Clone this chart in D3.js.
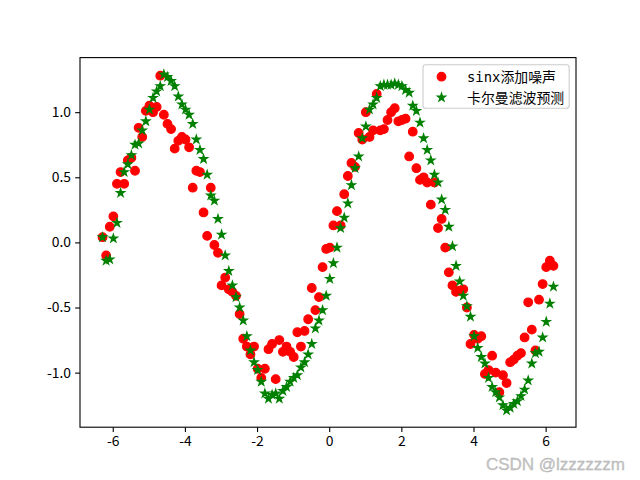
<!DOCTYPE html>
<html>
<head>
<meta charset="utf-8">
<script src="https://cdn.jsdelivr.net/npm/d3@7"></script>
<style>
  html, body { margin: 0; padding: 0; background: #fff; }
  svg { display: block; }
</style>
</head>
<body>
<svg id="chart" width="640" height="480"></svg>
<script>
// ---- data ----
const xStart = -2 * Math.PI;   // sampling grid start
const xStep = 0.1;             // sampling grid step

const noisySin = [
  0.04, -0.10, 0.12, 0.20, 0.45, 0.54, 0.45, 0.63, 0.65, 0.55,
  0.88, 0.81, 1.01, 1.05, 1.00, 1.04, 1.28, 0.98, 0.91, 0.87,
  0.72, 0.78, 0.81, 0.79, 0.73, 0.42, 0.55, 0.54, 0.23, 0.05,
  0.42, -0.02, -0.08, -0.33, -0.27, -0.36, -0.38, -0.41, -0.55, -0.74,
  -0.80, -0.86, -0.80, -0.97, -1.04, -0.97, -0.82, -0.78, -1.05, -0.75,
  -0.84, -0.80, -0.84, -0.88, -0.69, -0.80, -0.68, -0.59, -0.35, -0.52,
  -0.42, -0.19, -0.05, -0.04, 0.13, 0.24, 0.13, 0.37, 0.51, 0.61,
  0.58, 0.84, 0.79, 1.00, 0.81, 0.86, 1.14, 0.86, 0.87, 0.94,
  1.00, 1.03, 0.93, 0.94, 0.95, 0.66, 0.85, 0.57, 0.48, 0.50,
  0.46, 0.29, 0.46, 0.11, 0.18, -0.04, -0.23, -0.33, -0.38, -0.37,
  -0.36, -0.50, -0.78, -0.71, -0.74, -0.72, -1.01, -0.98, -0.87, -1.00,
  -1.15, -1.02, -1.08, -0.92, -0.90, -0.87, -0.85, -0.73, -0.46, -0.67,
  -0.83, -0.44, -0.32, -0.19, -0.14, -0.18
];

const kalmanPred = [
  0.04, -0.14, -0.13, 0.03, 0.15, 0.38, 0.54, 0.60, 0.67, 0.75,
  0.76, 0.86, 0.93, 1.02, 1.11, 1.16, 1.20, 1.29, 1.27, 1.24,
  1.20, 1.12, 1.06, 1.02, 0.98, 0.91, 0.79, 0.71, 0.64, 0.52,
  0.36, 0.32, 0.18, 0.06, -0.10, -0.22, -0.33, -0.42, -0.50, -0.60,
  -0.72, -0.83, -0.92, -0.98, -1.07, -1.16, -1.20, -1.17, -1.16, -1.20,
  -1.14, -1.11, -1.07, -1.04, -1.02, -0.96, -0.92, -0.86, -0.78, -0.66,
  -0.60, -0.52, -0.41, -0.28, -0.16, -0.04, 0.11, 0.19, 0.30, 0.44,
  0.57, 0.66, 0.80, 0.89, 1.02, 1.06, 1.11, 1.20, 1.21, 1.21,
  1.21, 1.22, 1.21, 1.20, 1.17, 1.15, 1.05, 1.01, 0.92, 0.80,
  0.71, 0.63, 0.52, 0.46, 0.33, 0.25, 0.12, -0.03, -0.18, -0.30,
  -0.41, -0.49, -0.57, -0.72, -0.81, -0.88, -0.93, -1.04, -1.11, -1.15,
  -1.19, -1.25, -1.29, -1.27, -1.24, -1.22, -1.18, -1.13, -1.06, -0.93,
  -0.85, -0.84, -0.73, -0.61, -0.47, -0.34
];

const xTicks = [-6, -4, -2, 0, 2, 4, 6];
const yTicks = [-1.0, -0.5, 0.0, 0.5, 1.0];
const legendLabels = ["sinx添加噪声", "卡尔曼滤波预测"];
const watermark = "CSDN @lzzzzzzm";

(function () {
  // ---- layout ----
  const W = 640, H = 480;
  const axL = 80, axR = 576, axT = 57.6, axB = 427.2;
  const RED = "#ff0000", GREEN = "#008000";
  const FS = 13.89;
  const FONT = "'Noto Sans CJK SC', 'DejaVu Sans', sans-serif";
  const LFONT = "'DejaVu Sans Mono', 'Noto Sans CJK SC', sans-serif";

  const xs = noisySin.map((_, i) => xStart + xStep * i);
  const pts1 = xs.map((xv, i) => ({ x: xv, y: noisySin[i] }));
  const pts2 = xs.map((xv, i) => ({ x: xv, y: kalmanPred[i] }));

  function padded(ext) {
    const r = ext[1] - ext[0];
    return [ext[0] - 0.05 * r, ext[1] + 0.05 * r];
  }
  const xExt = d3.extent(xs);
  const yExt = d3.extent(noisySin.concat(kalmanPred));

  const x = d3.scaleLinear().domain(padded(xExt)).range([axL, axR]);
  const y = d3.scaleLinear().domain(padded(yExt)).range([axB, axT]);

  const svg = d3.select("#chart");
  svg.append("rect").attr("width", W).attr("height", H).attr("fill", "#fff");

  const fmtY = d => (d < 0 ? "-" : "") + Math.abs(d).toFixed(1);
  const fmtX = d => (d < 0 ? "-" : "") + Math.abs(d);

  const starR = 4.3;
  const starPath = d3.symbol().type(d3.symbolStar).size(starR * starR / 0.8908130915292852)();

  // points
  const plot = svg.append("g");
  plot.append("g").selectAll("circle").data(pts1).join("circle")
    .attr("cx", d => x(d.x)).attr("cy", d => y(d.y))
    .attr("r", 4.3)
    .attr("fill", RED).attr("stroke", RED).attr("stroke-width", 1.2);

  plot.append("g").selectAll("path").data(pts2).join("path")
    .attr("d", starPath)
    .attr("transform", d => `translate(${x(d.x)},${y(d.y)})`)
    .attr("fill", GREEN).attr("stroke", GREEN).attr("stroke-width", 1.2);

  // axes
  const gx = svg.append("g").attr("transform", `translate(0,${axB})`)
    .call(d3.axisBottom(x).tickValues(xTicks).tickFormat(fmtX).tickSize(4.86).tickPadding(4.2).tickSizeOuter(0));
  const gy = svg.append("g").attr("transform", `translate(${axL},0)`)
    .call(d3.axisLeft(y).tickValues(yTicks).tickFormat(fmtY).tickSize(4.86).tickPadding(4.2).tickSizeOuter(0));
  [gx, gy].forEach(g => {
    g.select(".domain").remove();
    g.selectAll(".tick line").attr("stroke", "#000").attr("stroke-width", 1.1);
    g.selectAll(".tick text").attr("fill", "#000")
      .style("font-family", FONT).style("font-size", FS + "px");
  });

  // frame (spines)
  svg.append("rect")
    .attr("x", axL).attr("y", axT)
    .attr("width", axR - axL).attr("height", axB - axT)
    .attr("fill", "none").attr("stroke", "#000").attr("stroke-width", 1.1);

  // legend
  const lg = svg.append("g");
  const lgX = 423, lgY = 64.8, lgW = 146.2, lgH = 43.5;
  lg.append("rect")
    .attr("x", lgX).attr("y", lgY).attr("width", lgW).attr("height", lgH)
    .attr("rx", 2.8).attr("ry", 2.8)
    .attr("fill", "#fff").attr("fill-opacity", 0.8)
    .attr("stroke", "#cccccc").attr("stroke-width", 1.1);
  const rowY = [76.7, 97.5];
  const mx = 441.5, tx = 467;
  lg.append("circle").attr("cx", mx).attr("cy", rowY[0]).attr("r", 4.3)
    .attr("fill", RED).attr("stroke", RED).attr("stroke-width", 1.2);
  lg.append("path").attr("d", starPath)
    .attr("transform", `translate(${mx},${rowY[1]})`)
    .attr("fill", GREEN).attr("stroke", GREEN).attr("stroke-width", 1.2);
  lg.selectAll("text.lbl").data(legendLabels).join("text")
    .attr("class", "lbl")
    .attr("x", tx).attr("y", (d, i) => rowY[i])
    .attr("dy", "0.36em")
    .style("font-family", LFONT).style("font-size", FS + "px")
    .attr("fill", "#000")
    .text(d => d);

  // watermark
  svg.append("text")
    .attr("x", 625).attr("y", 470)
    .attr("text-anchor", "end")
    .style("font-family", "'Liberation Sans', Arial, sans-serif")
    .style("font-size", "17px")
    .attr("fill", "#c4c4c4")
    .attr("stroke", "#b0b0b0").attr("stroke-width", 0.3)
    .text(watermark);
})();
</script>
</body>
</html>
